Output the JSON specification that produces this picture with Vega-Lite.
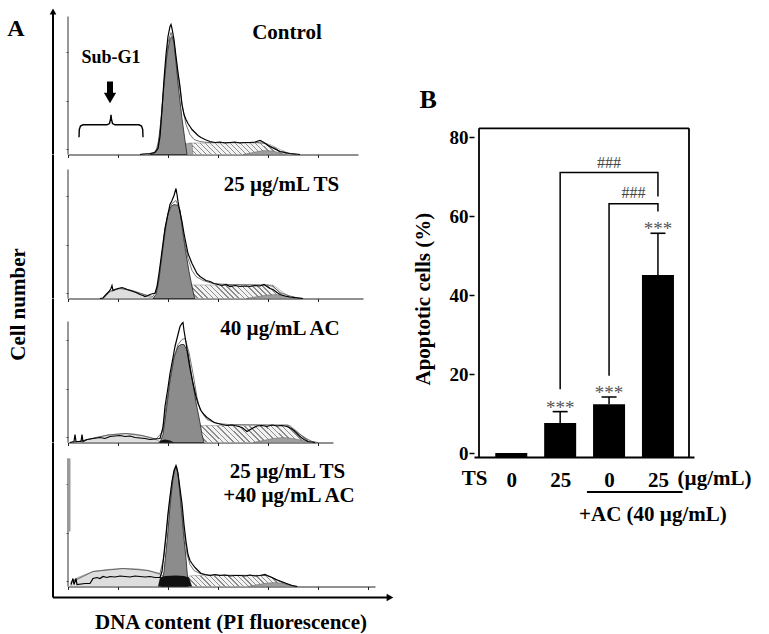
{
  "$schema": "https://vega.github.io/schema/vega-lite/v6.json",
  "background": "white",
  "padding": {"left": 7, "top": 8, "right": 0, "bottom": 0},
  "spacing": 18,
  "config": {
    "font": "Liberation Serif",
    "view": {"stroke": null},
    "axis": {"grid": false, "labelFont": "Liberation Serif", "titleFont": "Liberation Serif"}
  },
  "datasets": {
    "p1": [
      {"s":"obs","x":72,"h":0},{"s":"obs","x":75,"h":0.5},{"s":"obs","x":82,"h":1},{"s":"obs","x":87,"h":2},{"s":"obs","x":90,"h":6},{"s":"obs","x":92,"h":18},{"s":"obs","x":94,"h":45},{"s":"obs","x":96,"h":75},{"s":"obs","x":98,"h":100},{"s":"obs","x":100,"h":118},{"s":"obs","x":102,"h":128},{"s":"obs","x":103,"h":130},{"s":"obs","x":104,"h":126},{"s":"obs","x":106,"h":115},{"s":"obs","x":108,"h":98},{"s":"obs","x":110,"h":82},{"s":"obs","x":112,"h":68},{"s":"obs","x":114,"h":50},{"s":"obs","x":116,"h":40},{"s":"obs","x":118,"h":35},{"s":"obs","x":120,"h":31},{"s":"obs","x":122,"h":28},{"s":"obs","x":124,"h":25},{"s":"obs","x":127,"h":22},{"s":"obs","x":130,"h":19},{"s":"obs","x":133,"h":17},{"s":"obs","x":137,"h":15},{"s":"obs","x":142,"h":13},{"s":"obs","x":147,"h":12},{"s":"obs","x":152,"h":12.5},{"s":"obs","x":157,"h":11.5},{"s":"obs","x":162,"h":12},{"s":"obs","x":167,"h":12.5},{"s":"obs","x":172,"h":11.5},{"s":"obs","x":177,"h":12},{"s":"obs","x":182,"h":12},{"s":"obs","x":187,"h":12.5},{"s":"obs","x":192,"h":14},{"s":"obs","x":196,"h":12},{"s":"obs","x":200,"h":9},{"s":"obs","x":204,"h":7},{"s":"obs","x":208,"h":5},{"s":"obs","x":212,"h":3},{"s":"obs","x":217,"h":2},{"s":"obs","x":222,"h":1},{"s":"obs","x":228,"h":0.5},{"s":"obs","x":232,"h":0},
      {"s":"fit","x":80,"h":0},{"s":"fit","x":88,"h":3},{"s":"fit","x":92,"h":20},{"s":"fit","x":96,"h":70},{"s":"fit","x":100,"h":112},{"s":"fit","x":103,"h":122},{"s":"fit","x":106,"h":112},{"s":"fit","x":110,"h":80},{"s":"fit","x":114,"h":50},{"s":"fit","x":118,"h":30},{"s":"fit","x":122,"h":20},{"s":"fit","x":126,"h":15},{"s":"fit","x":132,"h":13},{"s":"fit","x":140,"h":12},{"s":"fit","x":190,"h":12},{"s":"fit","x":198,"h":11},{"s":"fit","x":205,"h":7},{"s":"fit","x":212,"h":3},{"s":"fit","x":220,"h":1},{"s":"fit","x":228,"h":0},
      {"s":"g1","x":82,"h":0},{"s":"g1","x":86,"h":1},{"s":"g1","x":90,"h":8},{"s":"g1","x":93,"h":35},{"s":"g1","x":96,"h":70},{"s":"g1","x":99,"h":100},{"s":"g1","x":102,"h":116},{"s":"g1","x":104,"h":118},{"s":"g1","x":106,"h":112},{"s":"g1","x":108,"h":92},{"s":"g1","x":111,"h":62},{"s":"g1","x":114,"h":36},{"s":"g1","x":117,"h":14},{"s":"g1","x":119,"h":0},
      {"s":"s","x":92,"h":0},{"s":"s","x":100,"h":5},{"s":"s","x":112,"h":10},{"s":"s","x":122,"h":11.5},{"s":"s","x":195,"h":11.5},{"s":"s","x":202,"h":10},{"s":"s","x":212,"h":5},{"s":"s","x":222,"h":1},{"s":"s","x":227,"h":0},
      {"s":"sd","x":98,"h":0},{"s":"sd","x":108,"h":6},{"s":"sd","x":118,"h":10.5},{"s":"sd","x":124,"h":11.2},{"s":"sd","x":125,"h":0},
      {"s":"g2","x":175,"h":0},{"s":"g2","x":185,"h":2},{"s":"g2","x":195,"h":4},{"s":"g2","x":205,"h":3.5},{"s":"g2","x":212,"h":1.5},{"s":"g2","x":218,"h":0},
      {"s":"brace","x":11,"h":17.3},{"s":"brace","x":11.3,"h":25},{"s":"brace","x":12.5,"h":28.5},{"s":"brace","x":15,"h":29.7},{"s":"brace","x":39,"h":29.7},{"s":"brace","x":41.5,"h":31},{"s":"brace","x":42.5,"h":35},{"s":"brace","x":43,"h":39.7},{"s":"brace","x":43.5,"h":35},{"s":"brace","x":44.5,"h":31},{"s":"brace","x":47,"h":29.7},{"s":"brace","x":71,"h":29.7},{"s":"brace","x":73.5,"h":28.5},{"s":"brace","x":74.7,"h":25},{"s":"brace","x":75,"h":17.3}
    ],
    "p2": [
      {"s":"obs","x":32,"h":0},{"s":"obs","x":35,"h":0.5},{"s":"obs","x":38,"h":4},{"s":"obs","x":41,"h":7},{"s":"obs","x":43,"h":10},{"s":"obs","x":44,"h":13},{"s":"obs","x":45,"h":8},{"s":"obs","x":47,"h":9},{"s":"obs","x":50,"h":10},{"s":"obs","x":54,"h":11},{"s":"obs","x":57,"h":10},{"s":"obs","x":59,"h":9},{"s":"obs","x":62,"h":8},{"s":"obs","x":65,"h":7},{"s":"obs","x":68,"h":6},{"s":"obs","x":72,"h":4},{"s":"obs","x":75,"h":3},{"s":"obs","x":77,"h":2},{"s":"obs","x":80,"h":3},{"s":"obs","x":82,"h":4},{"s":"obs","x":85,"h":5},{"s":"obs","x":87,"h":5},{"s":"obs","x":89,"h":12},{"s":"obs","x":91,"h":25},{"s":"obs","x":93,"h":40},{"s":"obs","x":95,"h":55},{"s":"obs","x":97,"h":70},{"s":"obs","x":99,"h":80},{"s":"obs","x":102,"h":94},{"s":"obs","x":104,"h":98},{"s":"obs","x":106,"h":103},{"s":"obs","x":108,"h":110},{"s":"obs","x":109,"h":104},{"s":"obs","x":110,"h":97},{"s":"obs","x":112,"h":86},{"s":"obs","x":114,"h":77},{"s":"obs","x":116,"h":65},{"s":"obs","x":118,"h":55},{"s":"obs","x":120,"h":45},{"s":"obs","x":122,"h":40},{"s":"obs","x":124,"h":35},{"s":"obs","x":127,"h":29},{"s":"obs","x":129,"h":25},{"s":"obs","x":132,"h":22},{"s":"obs","x":135,"h":20},{"s":"obs","x":138,"h":18},{"s":"obs","x":142,"h":17},{"s":"obs","x":146,"h":15},{"s":"obs","x":150,"h":14},{"s":"obs","x":154,"h":13},{"s":"obs","x":158,"h":14},{"s":"obs","x":162,"h":12},{"s":"obs","x":167,"h":13},{"s":"obs","x":172,"h":12},{"s":"obs","x":177,"h":12.5},{"s":"obs","x":182,"h":12},{"s":"obs","x":187,"h":13},{"s":"obs","x":192,"h":12.5},{"s":"obs","x":196,"h":14},{"s":"obs","x":199,"h":12},{"s":"obs","x":202,"h":10},{"s":"obs","x":205,"h":9},{"s":"obs","x":209,"h":6},{"s":"obs","x":212,"h":4},{"s":"obs","x":217,"h":2.5},{"s":"obs","x":222,"h":1.5},{"s":"obs","x":227,"h":0.8},{"s":"obs","x":235,"h":0},
      {"s":"fit","x":35,"h":0},{"s":"fit","x":42,"h":7},{"s":"fit","x":52,"h":10},{"s":"fit","x":64,"h":8},{"s":"fit","x":76,"h":4},{"s":"fit","x":85,"h":2},{"s":"fit","x":90,"h":12},{"s":"fit","x":95,"h":50},{"s":"fit","x":100,"h":85},{"s":"fit","x":104,"h":95},{"s":"fit","x":108,"h":98},{"s":"fit","x":112,"h":88},{"s":"fit","x":116,"h":60},{"s":"fit","x":120,"h":40},{"s":"fit","x":124,"h":28},{"s":"fit","x":128,"h":22},{"s":"fit","x":135,"h":18},{"s":"fit","x":145,"h":15},{"s":"fit","x":160,"h":14},{"s":"fit","x":200,"h":13.5},{"s":"fit","x":205,"h":12},{"s":"fit","x":212,"h":6},{"s":"fit","x":220,"h":3},{"s":"fit","x":230,"h":0.5},{"s":"fit","x":235,"h":0},
      {"s":"g1","x":85,"h":0},{"s":"g1","x":88,"h":4},{"s":"g1","x":91,"h":20},{"s":"g1","x":94,"h":45},{"s":"g1","x":97,"h":70},{"s":"g1","x":100,"h":85},{"s":"g1","x":103,"h":92},{"s":"g1","x":106,"h":94},{"s":"g1","x":110,"h":93},{"s":"g1","x":112,"h":88},{"s":"g1","x":115,"h":65},{"s":"g1","x":118,"h":45},{"s":"g1","x":121,"h":27},{"s":"g1","x":124,"h":12},{"s":"g1","x":126,"h":3},{"s":"g1","x":127,"h":0},
      {"s":"s","x":92,"h":0},{"s":"s","x":100,"h":4},{"s":"s","x":110,"h":9},{"s":"s","x":118,"h":12},{"s":"s","x":124,"h":13.5},{"s":"s","x":205,"h":13.5},{"s":"s","x":210,"h":10},{"s":"s","x":215,"h":6},{"s":"s","x":220,"h":3},{"s":"s","x":225,"h":1},{"s":"s","x":230,"h":0},
      {"s":"sd","x":96,"h":0},{"s":"sd","x":106,"h":6},{"s":"sd","x":116,"h":11},{"s":"sd","x":124,"h":13},{"s":"sd","x":125,"h":0},
      {"s":"g2","x":178,"h":0},{"s":"g2","x":190,"h":2},{"s":"g2","x":200,"h":3.5},{"s":"g2","x":208,"h":4},{"s":"g2","x":215,"h":3},{"s":"g2","x":222,"h":1},{"s":"g2","x":227,"h":0},
      {"s":"sub","x":34,"h":0},{"s":"sub","x":38,"h":3},{"s":"sub","x":42,"h":7},{"s":"sub","x":46,"h":9},{"s":"sub","x":52,"h":10},{"s":"sub","x":58,"h":9.5},{"s":"sub","x":64,"h":8},{"s":"sub","x":70,"h":6},{"s":"sub","x":76,"h":4},{"s":"sub","x":80,"h":2},{"s":"sub","x":84,"h":0.5},{"s":"sub","x":87,"h":0}
    ],
    "p3": [
      {"s":"obs","x":2,"h":0},{"s":"obs","x":6,"h":1},{"s":"obs","x":7,"h":8},{"s":"obs","x":8,"h":1},{"s":"obs","x":13,"h":1},{"s":"obs","x":14,"h":8},{"s":"obs","x":15,"h":1},{"s":"obs","x":19,"h":3},{"s":"obs","x":25,"h":4},{"s":"obs","x":32,"h":5},{"s":"obs","x":37,"h":4},{"s":"obs","x":42,"h":6},{"s":"obs","x":47,"h":6.5},{"s":"obs","x":52,"h":7},{"s":"obs","x":57,"h":6},{"s":"obs","x":62,"h":6.5},{"s":"obs","x":67,"h":5},{"s":"obs","x":72,"h":4.5},{"s":"obs","x":77,"h":4},{"s":"obs","x":82,"h":3},{"s":"obs","x":87,"h":3.5},{"s":"obs","x":92,"h":4},{"s":"obs","x":95,"h":15},{"s":"obs","x":97,"h":36},{"s":"obs","x":100,"h":55},{"s":"obs","x":102,"h":69},{"s":"obs","x":105,"h":85},{"s":"obs","x":107,"h":96},{"s":"obs","x":110,"h":108},{"s":"obs","x":112,"h":116},{"s":"obs","x":114,"h":119},{"s":"obs","x":115,"h":120},{"s":"obs","x":116,"h":112},{"s":"obs","x":118,"h":100},{"s":"obs","x":120,"h":86},{"s":"obs","x":122,"h":74},{"s":"obs","x":125,"h":59},{"s":"obs","x":128,"h":46},{"s":"obs","x":130,"h":39},{"s":"obs","x":133,"h":32},{"s":"obs","x":136,"h":28},{"s":"obs","x":139,"h":25},{"s":"obs","x":142,"h":23},{"s":"obs","x":146,"h":20},{"s":"obs","x":150,"h":19},{"s":"obs","x":154,"h":18},{"s":"obs","x":159,"h":17},{"s":"obs","x":164,"h":17.5},{"s":"obs","x":169,"h":16.5},{"s":"obs","x":174,"h":15},{"s":"obs","x":179,"h":11},{"s":"obs","x":184,"h":14},{"s":"obs","x":189,"h":16.5},{"s":"obs","x":194,"h":17},{"s":"obs","x":199,"h":16},{"s":"obs","x":204,"h":17.5},{"s":"obs","x":209,"h":16.5},{"s":"obs","x":214,"h":17},{"s":"obs","x":219,"h":16},{"s":"obs","x":223,"h":14},{"s":"obs","x":226,"h":12},{"s":"obs","x":229,"h":9},{"s":"obs","x":232,"h":6},{"s":"obs","x":236,"h":3},{"s":"obs","x":240,"h":1},{"s":"obs","x":247,"h":0},
      {"s":"fit","x":5,"h":0},{"s":"fit","x":20,"h":3},{"s":"fit","x":40,"h":7.5},{"s":"fit","x":58,"h":9},{"s":"fit","x":74,"h":7},{"s":"fit","x":88,"h":3.5},{"s":"fit","x":94,"h":10},{"s":"fit","x":98,"h":35},{"s":"fit","x":102,"h":62},{"s":"fit","x":106,"h":85},{"s":"fit","x":110,"h":98},{"s":"fit","x":114,"h":103},{"s":"fit","x":117,"h":104},{"s":"fit","x":121,"h":90},{"s":"fit","x":125,"h":69},{"s":"fit","x":129,"h":45},{"s":"fit","x":132,"h":33},{"s":"fit","x":136,"h":27},{"s":"fit","x":139,"h":23},{"s":"fit","x":144,"h":21},{"s":"fit","x":150,"h":19},{"s":"fit","x":160,"h":18},{"s":"fit","x":220,"h":17.5},{"s":"fit","x":226,"h":13},{"s":"fit","x":232,"h":8},{"s":"fit","x":238,"h":4},{"s":"fit","x":244,"h":1},{"s":"fit","x":250,"h":0},
      {"s":"g1","x":92,"h":0},{"s":"g1","x":95,"h":8},{"s":"g1","x":98,"h":30},{"s":"g1","x":102,"h":62},{"s":"g1","x":106,"h":85},{"s":"g1","x":110,"h":96},{"s":"g1","x":113,"h":98},{"s":"g1","x":116,"h":98},{"s":"g1","x":120,"h":90},{"s":"g1","x":124,"h":65},{"s":"g1","x":128,"h":40},{"s":"g1","x":132,"h":20},{"s":"g1","x":134,"h":8},{"s":"g1","x":136,"h":0},
      {"s":"s","x":104,"h":0},{"s":"s","x":112,"h":6},{"s":"s","x":120,"h":12},{"s":"s","x":128,"h":16},{"s":"s","x":132,"h":17},{"s":"s","x":222,"h":17},{"s":"s","x":228,"h":12},{"s":"s","x":234,"h":7},{"s":"s","x":240,"h":3},{"s":"s","x":244,"h":1},{"s":"s","x":247,"h":0},
      {"s":"sd","x":104,"h":0},{"s":"sd","x":115,"h":8},{"s":"sd","x":125,"h":14},{"s":"sd","x":132,"h":16.5},{"s":"sd","x":133,"h":0},
      {"s":"g2","x":185,"h":0},{"s":"g2","x":195,"h":2},{"s":"g2","x":205,"h":4},{"s":"g2","x":215,"h":5},{"s":"g2","x":225,"h":4},{"s":"g2","x":235,"h":2},{"s":"g2","x":242,"h":0},
      {"s":"sub","x":5,"h":0},{"s":"sub","x":12,"h":1},{"s":"sub","x":20,"h":3},{"s":"sub","x":30,"h":5.5},{"s":"sub","x":40,"h":7.5},{"s":"sub","x":50,"h":8.5},{"s":"sub","x":58,"h":9},{"s":"sub","x":66,"h":8.5},{"s":"sub","x":74,"h":7},{"s":"sub","x":82,"h":5},{"s":"sub","x":88,"h":3},{"s":"sub","x":92,"h":1},{"s":"sub","x":95,"h":0},
      {"s":"blk","x":90,"h":0},{"s":"blk","x":93,"h":2},{"s":"blk","x":97,"h":3},{"s":"blk","x":102,"h":2},{"s":"blk","x":106,"h":0}
    ],
    "p4": [
      {"s":"obs","x":3,"h":2},{"s":"obs","x":5,"h":8},{"s":"obs","x":6,"h":2},{"s":"obs","x":8,"h":8},{"s":"obs","x":9,"h":2},{"s":"obs","x":17,"h":3},{"s":"obs","x":22,"h":3},{"s":"obs","x":25,"h":8},{"s":"obs","x":29,"h":9},{"s":"obs","x":32,"h":8},{"s":"obs","x":35,"h":10},{"s":"obs","x":39,"h":9},{"s":"obs","x":42,"h":10},{"s":"obs","x":47,"h":9.5},{"s":"obs","x":52,"h":10.5},{"s":"obs","x":57,"h":10},{"s":"obs","x":62,"h":9.5},{"s":"obs","x":67,"h":10.5},{"s":"obs","x":72,"h":10},{"s":"obs","x":77,"h":9.5},{"s":"obs","x":82,"h":10},{"s":"obs","x":87,"h":9},{"s":"obs","x":92,"h":9},{"s":"obs","x":94,"h":15},{"s":"obs","x":96,"h":33},{"s":"obs","x":98,"h":52},{"s":"obs","x":100,"h":73},{"s":"obs","x":102,"h":90},{"s":"obs","x":104,"h":105},{"s":"obs","x":106,"h":116},{"s":"obs","x":108,"h":121},{"s":"obs","x":109,"h":118},{"s":"obs","x":110,"h":113},{"s":"obs","x":112,"h":98},{"s":"obs","x":114,"h":83},{"s":"obs","x":116,"h":62},{"s":"obs","x":118,"h":45},{"s":"obs","x":120,"h":32},{"s":"obs","x":122,"h":26},{"s":"obs","x":124,"h":23},{"s":"obs","x":127,"h":19},{"s":"obs","x":130,"h":16},{"s":"obs","x":133,"h":13},{"s":"obs","x":137,"h":12},{"s":"obs","x":142,"h":11},{"s":"obs","x":147,"h":12},{"s":"obs","x":152,"h":11},{"s":"obs","x":157,"h":11.5},{"s":"obs","x":162,"h":10.5},{"s":"obs","x":167,"h":11},{"s":"obs","x":172,"h":11},{"s":"obs","x":177,"h":10.5},{"s":"obs","x":182,"h":11.5},{"s":"obs","x":187,"h":10.5},{"s":"obs","x":192,"h":11},{"s":"obs","x":197,"h":12},{"s":"obs","x":200,"h":10.5},{"s":"obs","x":204,"h":9},{"s":"obs","x":208,"h":7},{"s":"obs","x":212,"h":5.5},{"s":"obs","x":216,"h":4},{"s":"obs","x":220,"h":2.5},{"s":"obs","x":224,"h":1},{"s":"obs","x":229,"h":0},
      {"s":"fit","x":5,"h":5},{"s":"fit","x":25,"h":15},{"s":"fit","x":55,"h":18},{"s":"fit","x":80,"h":16},{"s":"fit","x":92,"h":13},{"s":"fit","x":96,"h":30},{"s":"fit","x":100,"h":70},{"s":"fit","x":104,"h":105},{"s":"fit","x":107,"h":118},{"s":"fit","x":108,"h":120},{"s":"fit","x":110,"h":112},{"s":"fit","x":113,"h":85},{"s":"fit","x":116,"h":55},{"s":"fit","x":119,"h":32},{"s":"fit","x":122,"h":22},{"s":"fit","x":126,"h":16},{"s":"fit","x":132,"h":13},{"s":"fit","x":140,"h":11.5},{"s":"fit","x":200,"h":11},{"s":"fit","x":206,"h":8},{"s":"fit","x":212,"h":5},{"s":"fit","x":218,"h":2.5},{"s":"fit","x":225,"h":0.8},{"s":"fit","x":230,"h":0},
      {"s":"g1","x":93,"h":0},{"s":"g1","x":96,"h":15},{"s":"g1","x":99,"h":45},{"s":"g1","x":102,"h":80},{"s":"g1","x":105,"h":108},{"s":"g1","x":107,"h":118},{"s":"g1","x":108,"h":120},{"s":"g1","x":110,"h":113},{"s":"g1","x":112,"h":92},{"s":"g1","x":114,"h":70},{"s":"g1","x":116,"h":48},{"s":"g1","x":118,"h":28},{"s":"g1","x":119.5,"h":10},{"s":"g1","x":120,"h":0},
      {"s":"s","x":100,"h":0},{"s":"s","x":110,"h":6},{"s":"s","x":119,"h":10},{"s":"s","x":125,"h":11},{"s":"s","x":200,"h":11},{"s":"s","x":206,"h":8},{"s":"s","x":212,"h":5},{"s":"s","x":218,"h":2.5},{"s":"s","x":225,"h":0},
      {"s":"g2","x":180,"h":0},{"s":"g2","x":190,"h":2},{"s":"g2","x":200,"h":3.5},{"s":"g2","x":208,"h":4},{"s":"g2","x":215,"h":3},{"s":"g2","x":222,"h":1},{"s":"g2","x":227,"h":0},
      {"s":"sub","x":3,"h":5},{"s":"sub","x":10,"h":9},{"s":"sub","x":25,"h":15},{"s":"sub","x":40,"h":17},{"s":"sub","x":55,"h":18},{"s":"sub","x":70,"h":17.5},{"s":"sub","x":80,"h":16},{"s":"sub","x":92,"h":12},{"s":"sub","x":100,"h":9},{"s":"sub","x":109,"h":6},{"s":"sub","x":117,"h":3},{"s":"sub","x":125,"h":1},{"s":"sub","x":130,"h":0},
      {"s":"blk","x":90,"h":0},{"s":"blk","x":92,"h":9},{"s":"blk","x":97,"h":10.5},{"s":"blk","x":108,"h":11},{"s":"blk","x":116,"h":10.5},{"s":"blk","x":121,"h":9},{"s":"blk","x":124,"h":0}
    ]
  },
  "hconcat": [
    {
      "vconcat": [
        {
          "width": 290,
          "height": 143.5,
          "layer": [
            {
              "data": {"name": "p1"},
              "encoding": {
                "x": {"field": "x", "type": "quantitative", "scale": {"domain": [0, 290], "nice": false, "zero": false},
                  "axis": {"title": null, "labels": false, "grid": false, "tickSize": 3, "tickColor": "#222", "domainColor": "#222", "domainWidth": 1,
                    "values": [0,12.5,25,37.5,50,62.5,75,87.5,100,112.5,125,137.5,150,162.5,175,187.5,200,212.5,225,237.5,250,262.5,275,287.5]}},
                "y": {"field": "h", "type": "quantitative", "scale": {"domain": [0, 143.5], "nice": false},
                  "axis": {"title": null, "labels": false, "grid": false, "domain": false, "tickSize": 2, "tickColor": "#555",
                    "values": [6,12,18,24,30,36,42,48,54,60,66,72,78,84,90,96,102,108,114,120,126,132,138]}}
              },
              "layer": [
                {"transform": [{"filter": "datum.s == 's'"}], "mark": {"type": "area", "stroke": "#999999", "strokeWidth": 0.6,
                  "fill": {"gradient": "linear", "x1": 0, "y1": 0.543, "x2": 1, "y2": 0.457, "stops": [
                    {"offset": 0, "color": "#8c8c8c"}, {"offset": 0.011, "color": "#8c8c8c"}, {"offset": 0.011, "color": "#f2f2f2"}, {"offset": 0.037, "color": "#f2f2f2"},
                    {"offset": 0.037, "color": "#8c8c8c"}, {"offset": 0.048, "color": "#8c8c8c"}, {"offset": 0.048, "color": "#f2f2f2"}, {"offset": 0.0741, "color": "#f2f2f2"},
                    {"offset": 0.0741, "color": "#8c8c8c"}, {"offset": 0.0851, "color": "#8c8c8c"}, {"offset": 0.0851, "color": "#f2f2f2"}, {"offset": 0.1111, "color": "#f2f2f2"},
                    {"offset": 0.1111, "color": "#8c8c8c"}, {"offset": 0.1221, "color": "#8c8c8c"}, {"offset": 0.1221, "color": "#f2f2f2"}, {"offset": 0.1481, "color": "#f2f2f2"},
                    {"offset": 0.1481, "color": "#8c8c8c"}, {"offset": 0.1591, "color": "#8c8c8c"}, {"offset": 0.1591, "color": "#f2f2f2"}, {"offset": 0.1852, "color": "#f2f2f2"},
                    {"offset": 0.1852, "color": "#8c8c8c"}, {"offset": 0.1962, "color": "#8c8c8c"}, {"offset": 0.1962, "color": "#f2f2f2"}, {"offset": 0.2222, "color": "#f2f2f2"},
                    {"offset": 0.2222, "color": "#8c8c8c"}, {"offset": 0.2332, "color": "#8c8c8c"}, {"offset": 0.2332, "color": "#f2f2f2"}, {"offset": 0.2593, "color": "#f2f2f2"},
                    {"offset": 0.2593, "color": "#8c8c8c"}, {"offset": 0.2703, "color": "#8c8c8c"}, {"offset": 0.2703, "color": "#f2f2f2"}, {"offset": 0.2963, "color": "#f2f2f2"},
                    {"offset": 0.2963, "color": "#8c8c8c"}, {"offset": 0.3073, "color": "#8c8c8c"}, {"offset": 0.3073, "color": "#f2f2f2"}, {"offset": 0.3333, "color": "#f2f2f2"},
                    {"offset": 0.3333, "color": "#8c8c8c"}, {"offset": 0.3443, "color": "#8c8c8c"}, {"offset": 0.3443, "color": "#f2f2f2"}, {"offset": 0.3704, "color": "#f2f2f2"},
                    {"offset": 0.3704, "color": "#8c8c8c"}, {"offset": 0.3814, "color": "#8c8c8c"}, {"offset": 0.3814, "color": "#f2f2f2"}, {"offset": 0.4074, "color": "#f2f2f2"},
                    {"offset": 0.4074, "color": "#8c8c8c"}, {"offset": 0.4184, "color": "#8c8c8c"}, {"offset": 0.4184, "color": "#f2f2f2"}, {"offset": 0.4444, "color": "#f2f2f2"},
                    {"offset": 0.4444, "color": "#8c8c8c"}, {"offset": 0.4554, "color": "#8c8c8c"}, {"offset": 0.4554, "color": "#f2f2f2"}, {"offset": 0.4815, "color": "#f2f2f2"},
                    {"offset": 0.4815, "color": "#8c8c8c"}, {"offset": 0.4925, "color": "#8c8c8c"}, {"offset": 0.4925, "color": "#f2f2f2"}, {"offset": 0.5185, "color": "#f2f2f2"},
                    {"offset": 0.5185, "color": "#8c8c8c"}, {"offset": 0.5295, "color": "#8c8c8c"}, {"offset": 0.5295, "color": "#f2f2f2"}, {"offset": 0.5556, "color": "#f2f2f2"},
                    {"offset": 0.5556, "color": "#8c8c8c"}, {"offset": 0.5666, "color": "#8c8c8c"}, {"offset": 0.5666, "color": "#f2f2f2"}, {"offset": 0.5926, "color": "#f2f2f2"},
                    {"offset": 0.5926, "color": "#8c8c8c"}, {"offset": 0.6036, "color": "#8c8c8c"}, {"offset": 0.6036, "color": "#f2f2f2"}, {"offset": 0.6296, "color": "#f2f2f2"},
                    {"offset": 0.6296, "color": "#8c8c8c"}, {"offset": 0.6406, "color": "#8c8c8c"}, {"offset": 0.6406, "color": "#f2f2f2"}, {"offset": 0.6667, "color": "#f2f2f2"},
                    {"offset": 0.6667, "color": "#8c8c8c"}, {"offset": 0.6777, "color": "#8c8c8c"}, {"offset": 0.6777, "color": "#f2f2f2"}, {"offset": 0.7037, "color": "#f2f2f2"},
                    {"offset": 0.7037, "color": "#8c8c8c"}, {"offset": 0.7147, "color": "#8c8c8c"}, {"offset": 0.7147, "color": "#f2f2f2"}, {"offset": 0.7407, "color": "#f2f2f2"},
                    {"offset": 0.7407, "color": "#8c8c8c"}, {"offset": 0.7517, "color": "#8c8c8c"}, {"offset": 0.7517, "color": "#f2f2f2"}, {"offset": 0.7778, "color": "#f2f2f2"},
                    {"offset": 0.7778, "color": "#8c8c8c"}, {"offset": 0.7888, "color": "#8c8c8c"}, {"offset": 0.7888, "color": "#f2f2f2"}, {"offset": 0.8148, "color": "#f2f2f2"},
                    {"offset": 0.8148, "color": "#8c8c8c"}, {"offset": 0.8258, "color": "#8c8c8c"}, {"offset": 0.8258, "color": "#f2f2f2"}, {"offset": 0.8519, "color": "#f2f2f2"},
                    {"offset": 0.8519, "color": "#8c8c8c"}, {"offset": 0.8629, "color": "#8c8c8c"}, {"offset": 0.8629, "color": "#f2f2f2"}, {"offset": 0.8889, "color": "#f2f2f2"},
                    {"offset": 0.8889, "color": "#8c8c8c"}, {"offset": 0.8999, "color": "#8c8c8c"}, {"offset": 0.8999, "color": "#f2f2f2"}, {"offset": 0.9259, "color": "#f2f2f2"},
                    {"offset": 0.9259, "color": "#8c8c8c"}, {"offset": 0.9369, "color": "#8c8c8c"}, {"offset": 0.9369, "color": "#f2f2f2"}, {"offset": 0.963, "color": "#f2f2f2"},
                    {"offset": 0.963, "color": "#8c8c8c"}, {"offset": 0.974, "color": "#8c8c8c"}, {"offset": 0.974, "color": "#f2f2f2"}, {"offset": 1, "color": "#f2f2f2"}]}}, "encoding": {}},
                {"transform": [{"filter": "datum.s == 'sd'"}], "mark": {"type": "area", "fill": "#a8a8a8", "stroke": "#777777", "strokeWidth": 0.5}, "encoding": {}},
                {"transform": [{"filter": "datum.s == 'g2'"}], "mark": {"type": "area", "fill": "#9e9e9e", "stroke": "#666666", "strokeWidth": 0.5}, "encoding": {}},
                {"transform": [{"filter": "datum.s == 'g1'"}], "mark": {"type": "area", "fill": "#8c8c8c", "stroke": "#222222", "strokeWidth": 0.8}, "encoding": {}},
                {"transform": [{"filter": "datum.s == 'fit'"}], "mark": {"type": "line", "stroke": "#555555", "strokeWidth": 0.8}, "encoding": {}},
                {"transform": [{"filter": "datum.s == 'obs'"}], "mark": {"type": "line", "stroke": "#000000", "strokeWidth": 1.2}, "encoding": {}},
                {"transform": [{"filter": "datum.s == 'brace'"}], "mark": {"type": "line", "stroke": "#000000", "strokeWidth": 1.4}, "encoding": {}}
              ]
            },
            {"data": {"values": [{"part": "panel axis"}]}, "mark": {"type": "rule", "stroke": "#333333", "strokeWidth": 1},
              "encoding": {"x": {"datum": 0}, "y": {"datum": 0}, "y2": {"datum": 138}}},
            {"data": {"values": [{"part": "cell number axis"}]}, "mark": {"type": "rule", "stroke": "#000000", "strokeWidth": 2},
              "encoding": {"x": {"datum": -15}, "y": {"datum": 0}, "y2": {"datum": 143.5}}},
            {"data": {"values": [{"part": "arrow head"}]}, "mark": {"type": "point", "shape": "triangle-up", "size": 45, "filled": true, "color": "#000000", "opacity": 1},
              "encoding": {"x": {"datum": -15}, "y": {"datum": 143}}},
            {"data": {"values": [{"t": "A"}]}, "mark": {"type": "text", "fontSize": 24, "fontWeight": "bold", "align": "center", "baseline": "middle"},
              "encoding": {"x": {"datum": -52}, "y": {"datum": 126}, "text": {"field": "t"}}},
            {"data": {"values": [{"t": "Sub-G1"}]}, "mark": {"type": "text", "fontSize": 18, "fontWeight": "bold", "align": "center", "baseline": "middle"},
              "encoding": {"x": {"datum": 43}, "y": {"datum": 97}, "text": {"field": "t"}}},
            {"data": {"values": [{"part": "Sub-G1 arrow"}]}, "mark": {"type": "rule", "stroke": "#000000", "strokeWidth": 6},
              "encoding": {"x": {"datum": 42}, "y": {"datum": 60}, "y2": {"datum": 73}}},
            {"data": {"values": [{"part": "Sub-G1 arrow head"}]}, "mark": {"type": "point", "shape": "triangle-down", "size": 150, "filled": true, "color": "#000000", "opacity": 1},
              "encoding": {"x": {"datum": 42}, "y": {"datum": 56.5}}},
            {"data": {"values": [{"t": "Control"}]}, "mark": {"type": "text", "fontSize": 21, "fontWeight": "bold", "align": "center", "baseline": "middle"},
              "encoding": {"x": {"datum": 219}, "y": {"datum": 121.5}, "text": {"field": "t"}}}
          ]
        },
        {
          "width": 295,
          "height": 143.5,
          "layer": [
            {
              "data": {"name": "p2"},
              "encoding": {
                "x": {"field": "x", "type": "quantitative", "scale": {"domain": [0, 295], "nice": false, "zero": false},
                  "axis": {"title": null, "labels": false, "grid": false, "tickSize": 3, "tickColor": "#222", "domainColor": "#222", "domainWidth": 1,
                    "values": [0,12.5,25,37.5,50,62.5,75,87.5,100,112.5,125,137.5,150,162.5,175,187.5,200,212.5,225,237.5,250,262.5,275,287.5]}},
                "y": {"field": "h", "type": "quantitative", "scale": {"domain": [0, 143.5], "nice": false},
                  "axis": {"title": null, "labels": false, "grid": false, "domain": false, "tickSize": 2, "tickColor": "#555",
                    "values": [6,12,18,24,30,36,42,48,54,60,66,72,78,84,90,96,102,108,114,120,126]}}
              },
              "layer": [
                {"transform": [{"filter": "datum.s == 'sub'"}], "mark": {"type": "area", "fill": "#dedede", "stroke": "#8a8a8a", "strokeWidth": 0.8}, "encoding": {}},
                {"transform": [{"filter": "datum.s == 's'"}], "mark": {"type": "area", "stroke": "#999999", "strokeWidth": 0.6,
                  "fill": {"gradient": "linear", "x1": 0, "y1": 0.549, "x2": 1, "y2": 0.451, "stops": [
                    {"offset": 0, "color": "#8c8c8c"}, {"offset": 0.011, "color": "#8c8c8c"}, {"offset": 0.011, "color": "#f2f2f2"}, {"offset": 0.037, "color": "#f2f2f2"},
                    {"offset": 0.037, "color": "#8c8c8c"}, {"offset": 0.048, "color": "#8c8c8c"}, {"offset": 0.048, "color": "#f2f2f2"}, {"offset": 0.0741, "color": "#f2f2f2"},
                    {"offset": 0.0741, "color": "#8c8c8c"}, {"offset": 0.0851, "color": "#8c8c8c"}, {"offset": 0.0851, "color": "#f2f2f2"}, {"offset": 0.1111, "color": "#f2f2f2"},
                    {"offset": 0.1111, "color": "#8c8c8c"}, {"offset": 0.1221, "color": "#8c8c8c"}, {"offset": 0.1221, "color": "#f2f2f2"}, {"offset": 0.1481, "color": "#f2f2f2"},
                    {"offset": 0.1481, "color": "#8c8c8c"}, {"offset": 0.1591, "color": "#8c8c8c"}, {"offset": 0.1591, "color": "#f2f2f2"}, {"offset": 0.1852, "color": "#f2f2f2"},
                    {"offset": 0.1852, "color": "#8c8c8c"}, {"offset": 0.1962, "color": "#8c8c8c"}, {"offset": 0.1962, "color": "#f2f2f2"}, {"offset": 0.2222, "color": "#f2f2f2"},
                    {"offset": 0.2222, "color": "#8c8c8c"}, {"offset": 0.2332, "color": "#8c8c8c"}, {"offset": 0.2332, "color": "#f2f2f2"}, {"offset": 0.2593, "color": "#f2f2f2"},
                    {"offset": 0.2593, "color": "#8c8c8c"}, {"offset": 0.2703, "color": "#8c8c8c"}, {"offset": 0.2703, "color": "#f2f2f2"}, {"offset": 0.2963, "color": "#f2f2f2"},
                    {"offset": 0.2963, "color": "#8c8c8c"}, {"offset": 0.3073, "color": "#8c8c8c"}, {"offset": 0.3073, "color": "#f2f2f2"}, {"offset": 0.3333, "color": "#f2f2f2"},
                    {"offset": 0.3333, "color": "#8c8c8c"}, {"offset": 0.3443, "color": "#8c8c8c"}, {"offset": 0.3443, "color": "#f2f2f2"}, {"offset": 0.3704, "color": "#f2f2f2"},
                    {"offset": 0.3704, "color": "#8c8c8c"}, {"offset": 0.3814, "color": "#8c8c8c"}, {"offset": 0.3814, "color": "#f2f2f2"}, {"offset": 0.4074, "color": "#f2f2f2"},
                    {"offset": 0.4074, "color": "#8c8c8c"}, {"offset": 0.4184, "color": "#8c8c8c"}, {"offset": 0.4184, "color": "#f2f2f2"}, {"offset": 0.4444, "color": "#f2f2f2"},
                    {"offset": 0.4444, "color": "#8c8c8c"}, {"offset": 0.4554, "color": "#8c8c8c"}, {"offset": 0.4554, "color": "#f2f2f2"}, {"offset": 0.4815, "color": "#f2f2f2"},
                    {"offset": 0.4815, "color": "#8c8c8c"}, {"offset": 0.4925, "color": "#8c8c8c"}, {"offset": 0.4925, "color": "#f2f2f2"}, {"offset": 0.5185, "color": "#f2f2f2"},
                    {"offset": 0.5185, "color": "#8c8c8c"}, {"offset": 0.5295, "color": "#8c8c8c"}, {"offset": 0.5295, "color": "#f2f2f2"}, {"offset": 0.5556, "color": "#f2f2f2"},
                    {"offset": 0.5556, "color": "#8c8c8c"}, {"offset": 0.5666, "color": "#8c8c8c"}, {"offset": 0.5666, "color": "#f2f2f2"}, {"offset": 0.5926, "color": "#f2f2f2"},
                    {"offset": 0.5926, "color": "#8c8c8c"}, {"offset": 0.6036, "color": "#8c8c8c"}, {"offset": 0.6036, "color": "#f2f2f2"}, {"offset": 0.6296, "color": "#f2f2f2"},
                    {"offset": 0.6296, "color": "#8c8c8c"}, {"offset": 0.6406, "color": "#8c8c8c"}, {"offset": 0.6406, "color": "#f2f2f2"}, {"offset": 0.6667, "color": "#f2f2f2"},
                    {"offset": 0.6667, "color": "#8c8c8c"}, {"offset": 0.6777, "color": "#8c8c8c"}, {"offset": 0.6777, "color": "#f2f2f2"}, {"offset": 0.7037, "color": "#f2f2f2"},
                    {"offset": 0.7037, "color": "#8c8c8c"}, {"offset": 0.7147, "color": "#8c8c8c"}, {"offset": 0.7147, "color": "#f2f2f2"}, {"offset": 0.7407, "color": "#f2f2f2"},
                    {"offset": 0.7407, "color": "#8c8c8c"}, {"offset": 0.7517, "color": "#8c8c8c"}, {"offset": 0.7517, "color": "#f2f2f2"}, {"offset": 0.7778, "color": "#f2f2f2"},
                    {"offset": 0.7778, "color": "#8c8c8c"}, {"offset": 0.7888, "color": "#8c8c8c"}, {"offset": 0.7888, "color": "#f2f2f2"}, {"offset": 0.8148, "color": "#f2f2f2"},
                    {"offset": 0.8148, "color": "#8c8c8c"}, {"offset": 0.8258, "color": "#8c8c8c"}, {"offset": 0.8258, "color": "#f2f2f2"}, {"offset": 0.8519, "color": "#f2f2f2"},
                    {"offset": 0.8519, "color": "#8c8c8c"}, {"offset": 0.8629, "color": "#8c8c8c"}, {"offset": 0.8629, "color": "#f2f2f2"}, {"offset": 0.8889, "color": "#f2f2f2"},
                    {"offset": 0.8889, "color": "#8c8c8c"}, {"offset": 0.8999, "color": "#8c8c8c"}, {"offset": 0.8999, "color": "#f2f2f2"}, {"offset": 0.9259, "color": "#f2f2f2"},
                    {"offset": 0.9259, "color": "#8c8c8c"}, {"offset": 0.9369, "color": "#8c8c8c"}, {"offset": 0.9369, "color": "#f2f2f2"}, {"offset": 0.963, "color": "#f2f2f2"},
                    {"offset": 0.963, "color": "#8c8c8c"}, {"offset": 0.974, "color": "#8c8c8c"}, {"offset": 0.974, "color": "#f2f2f2"}, {"offset": 1, "color": "#f2f2f2"}]}}, "encoding": {}},
                {"transform": [{"filter": "datum.s == 'sd'"}], "mark": {"type": "area", "fill": "#a8a8a8", "stroke": "#777777", "strokeWidth": 0.5}, "encoding": {}},
                {"transform": [{"filter": "datum.s == 'g2'"}], "mark": {"type": "area", "fill": "#9e9e9e", "stroke": "#666666", "strokeWidth": 0.5}, "encoding": {}},
                {"transform": [{"filter": "datum.s == 'g1'"}], "mark": {"type": "area", "fill": "#8c8c8c", "stroke": "#222222", "strokeWidth": 0.8}, "encoding": {}},
                {"transform": [{"filter": "datum.s == 'fit'"}], "mark": {"type": "line", "stroke": "#555555", "strokeWidth": 0.8}, "encoding": {}},
                {"transform": [{"filter": "datum.s == 'obs'"}], "mark": {"type": "line", "stroke": "#000000", "strokeWidth": 1.2}, "encoding": {}}
              ]
            },
            {"data": {"values": [{"part": "panel axis"}]}, "mark": {"type": "rule", "stroke": "#333333", "strokeWidth": 1},
              "encoding": {"x": {"datum": 0}, "y": {"datum": 0}, "y2": {"datum": 129}}},
            {"data": {"values": [{"part": "cell number axis"}]}, "mark": {"type": "rule", "stroke": "#000000", "strokeWidth": 2},
              "encoding": {"x": {"datum": -15}, "y": {"datum": 0}, "y2": {"datum": 143.5}}},
            {"data": {"values": [{"t": "Cell number"}]}, "mark": {"type": "text", "fontSize": 21, "fontWeight": "bold", "align": "center", "baseline": "middle", "angle": 270},
              "encoding": {"x": {"datum": -49.5}, "y": {"datum": -6}, "text": {"field": "t"}}},
            {"data": {"values": [{"t": "25 µg/mL TS"}]}, "mark": {"type": "text", "fontSize": 21, "fontWeight": "bold", "align": "center", "baseline": "middle"},
              "encoding": {"x": {"datum": 213.5}, "y": {"datum": 113.5}, "text": {"field": "t"}}}
          ]
        },
        {
          "width": 265,
          "height": 143.5,
          "layer": [
            {
              "data": {"name": "p3"},
              "encoding": {
                "x": {"field": "x", "type": "quantitative", "scale": {"domain": [0, 265], "nice": false, "zero": false},
                  "axis": {"title": null, "labels": false, "grid": false, "tickSize": 3, "tickColor": "#222", "domainColor": "#222", "domainWidth": 1,
                    "values": [0,12.5,25,37.5,50,62.5,75,87.5,100,112.5,125,137.5,150,162.5,175,187.5,200,212.5,225,237.5,250,262.5]}},
                "y": {"field": "h", "type": "quantitative", "scale": {"domain": [0, 143.5], "nice": false},
                  "axis": {"title": null, "labels": false, "grid": false, "domain": false, "tickSize": 2, "tickColor": "#555",
                    "values": [6,12,18,24,30,36,42,48,54,60,66,72,78,84,90,96,102,108,114,120]}}
              },
              "layer": [
                {"transform": [{"filter": "datum.s == 'sub'"}], "mark": {"type": "area", "fill": "#dedede", "stroke": "#8a8a8a", "strokeWidth": 0.8}, "encoding": {}},
                {"transform": [{"filter": "datum.s == 's'"}], "mark": {"type": "area", "stroke": "#999999", "strokeWidth": 0.6,
                  "fill": {"gradient": "linear", "x1": 0, "y1": 0.56, "x2": 1, "y2": 0.44, "stops": [
                    {"offset": 0, "color": "#8c8c8c"}, {"offset": 0.011, "color": "#8c8c8c"}, {"offset": 0.011, "color": "#f2f2f2"}, {"offset": 0.037, "color": "#f2f2f2"},
                    {"offset": 0.037, "color": "#8c8c8c"}, {"offset": 0.048, "color": "#8c8c8c"}, {"offset": 0.048, "color": "#f2f2f2"}, {"offset": 0.0741, "color": "#f2f2f2"},
                    {"offset": 0.0741, "color": "#8c8c8c"}, {"offset": 0.0851, "color": "#8c8c8c"}, {"offset": 0.0851, "color": "#f2f2f2"}, {"offset": 0.1111, "color": "#f2f2f2"},
                    {"offset": 0.1111, "color": "#8c8c8c"}, {"offset": 0.1221, "color": "#8c8c8c"}, {"offset": 0.1221, "color": "#f2f2f2"}, {"offset": 0.1481, "color": "#f2f2f2"},
                    {"offset": 0.1481, "color": "#8c8c8c"}, {"offset": 0.1591, "color": "#8c8c8c"}, {"offset": 0.1591, "color": "#f2f2f2"}, {"offset": 0.1852, "color": "#f2f2f2"},
                    {"offset": 0.1852, "color": "#8c8c8c"}, {"offset": 0.1962, "color": "#8c8c8c"}, {"offset": 0.1962, "color": "#f2f2f2"}, {"offset": 0.2222, "color": "#f2f2f2"},
                    {"offset": 0.2222, "color": "#8c8c8c"}, {"offset": 0.2332, "color": "#8c8c8c"}, {"offset": 0.2332, "color": "#f2f2f2"}, {"offset": 0.2593, "color": "#f2f2f2"},
                    {"offset": 0.2593, "color": "#8c8c8c"}, {"offset": 0.2703, "color": "#8c8c8c"}, {"offset": 0.2703, "color": "#f2f2f2"}, {"offset": 0.2963, "color": "#f2f2f2"},
                    {"offset": 0.2963, "color": "#8c8c8c"}, {"offset": 0.3073, "color": "#8c8c8c"}, {"offset": 0.3073, "color": "#f2f2f2"}, {"offset": 0.3333, "color": "#f2f2f2"},
                    {"offset": 0.3333, "color": "#8c8c8c"}, {"offset": 0.3443, "color": "#8c8c8c"}, {"offset": 0.3443, "color": "#f2f2f2"}, {"offset": 0.3704, "color": "#f2f2f2"},
                    {"offset": 0.3704, "color": "#8c8c8c"}, {"offset": 0.3814, "color": "#8c8c8c"}, {"offset": 0.3814, "color": "#f2f2f2"}, {"offset": 0.4074, "color": "#f2f2f2"},
                    {"offset": 0.4074, "color": "#8c8c8c"}, {"offset": 0.4184, "color": "#8c8c8c"}, {"offset": 0.4184, "color": "#f2f2f2"}, {"offset": 0.4444, "color": "#f2f2f2"},
                    {"offset": 0.4444, "color": "#8c8c8c"}, {"offset": 0.4554, "color": "#8c8c8c"}, {"offset": 0.4554, "color": "#f2f2f2"}, {"offset": 0.4815, "color": "#f2f2f2"},
                    {"offset": 0.4815, "color": "#8c8c8c"}, {"offset": 0.4925, "color": "#8c8c8c"}, {"offset": 0.4925, "color": "#f2f2f2"}, {"offset": 0.5185, "color": "#f2f2f2"},
                    {"offset": 0.5185, "color": "#8c8c8c"}, {"offset": 0.5295, "color": "#8c8c8c"}, {"offset": 0.5295, "color": "#f2f2f2"}, {"offset": 0.5556, "color": "#f2f2f2"},
                    {"offset": 0.5556, "color": "#8c8c8c"}, {"offset": 0.5666, "color": "#8c8c8c"}, {"offset": 0.5666, "color": "#f2f2f2"}, {"offset": 0.5926, "color": "#f2f2f2"},
                    {"offset": 0.5926, "color": "#8c8c8c"}, {"offset": 0.6036, "color": "#8c8c8c"}, {"offset": 0.6036, "color": "#f2f2f2"}, {"offset": 0.6296, "color": "#f2f2f2"},
                    {"offset": 0.6296, "color": "#8c8c8c"}, {"offset": 0.6406, "color": "#8c8c8c"}, {"offset": 0.6406, "color": "#f2f2f2"}, {"offset": 0.6667, "color": "#f2f2f2"},
                    {"offset": 0.6667, "color": "#8c8c8c"}, {"offset": 0.6777, "color": "#8c8c8c"}, {"offset": 0.6777, "color": "#f2f2f2"}, {"offset": 0.7037, "color": "#f2f2f2"},
                    {"offset": 0.7037, "color": "#8c8c8c"}, {"offset": 0.7147, "color": "#8c8c8c"}, {"offset": 0.7147, "color": "#f2f2f2"}, {"offset": 0.7407, "color": "#f2f2f2"},
                    {"offset": 0.7407, "color": "#8c8c8c"}, {"offset": 0.7517, "color": "#8c8c8c"}, {"offset": 0.7517, "color": "#f2f2f2"}, {"offset": 0.7778, "color": "#f2f2f2"},
                    {"offset": 0.7778, "color": "#8c8c8c"}, {"offset": 0.7888, "color": "#8c8c8c"}, {"offset": 0.7888, "color": "#f2f2f2"}, {"offset": 0.8148, "color": "#f2f2f2"},
                    {"offset": 0.8148, "color": "#8c8c8c"}, {"offset": 0.8258, "color": "#8c8c8c"}, {"offset": 0.8258, "color": "#f2f2f2"}, {"offset": 0.8519, "color": "#f2f2f2"},
                    {"offset": 0.8519, "color": "#8c8c8c"}, {"offset": 0.8629, "color": "#8c8c8c"}, {"offset": 0.8629, "color": "#f2f2f2"}, {"offset": 0.8889, "color": "#f2f2f2"},
                    {"offset": 0.8889, "color": "#8c8c8c"}, {"offset": 0.8999, "color": "#8c8c8c"}, {"offset": 0.8999, "color": "#f2f2f2"}, {"offset": 0.9259, "color": "#f2f2f2"},
                    {"offset": 0.9259, "color": "#8c8c8c"}, {"offset": 0.9369, "color": "#8c8c8c"}, {"offset": 0.9369, "color": "#f2f2f2"}, {"offset": 0.963, "color": "#f2f2f2"},
                    {"offset": 0.963, "color": "#8c8c8c"}, {"offset": 0.974, "color": "#8c8c8c"}, {"offset": 0.974, "color": "#f2f2f2"}, {"offset": 1, "color": "#f2f2f2"}]}}, "encoding": {}},
                {"transform": [{"filter": "datum.s == 'sd'"}], "mark": {"type": "area", "fill": "#a8a8a8", "stroke": "#777777", "strokeWidth": 0.5}, "encoding": {}},
                {"transform": [{"filter": "datum.s == 'g2'"}], "mark": {"type": "area", "fill": "#9e9e9e", "stroke": "#666666", "strokeWidth": 0.5}, "encoding": {}},
                {"transform": [{"filter": "datum.s == 'g1'"}], "mark": {"type": "area", "fill": "#8c8c8c", "stroke": "#222222", "strokeWidth": 0.8}, "encoding": {}},
                {"transform": [{"filter": "datum.s == 'blk'"}], "mark": {"type": "area", "fill": "#111111"}, "encoding": {}},
                {"transform": [{"filter": "datum.s == 'fit'"}], "mark": {"type": "line", "stroke": "#555555", "strokeWidth": 0.8}, "encoding": {}},
                {"transform": [{"filter": "datum.s == 'obs'"}], "mark": {"type": "line", "stroke": "#000000", "strokeWidth": 1.2}, "encoding": {}}
              ]
            },
            {"data": {"values": [{"part": "panel axis"}]}, "mark": {"type": "rule", "stroke": "#333333", "strokeWidth": 1},
              "encoding": {"x": {"datum": 0}, "y": {"datum": 0}, "y2": {"datum": 121}}},
            {"data": {"values": [{"part": "cell number axis"}]}, "mark": {"type": "rule", "stroke": "#000000", "strokeWidth": 2},
              "encoding": {"x": {"datum": -15}, "y": {"datum": 0}, "y2": {"datum": 143.5}}},
            {"data": {"values": [{"t": "40 µg/mL AC"}]}, "mark": {"type": "text", "fontSize": 21, "fontWeight": "bold", "align": "center", "baseline": "middle"},
              "encoding": {"x": {"datum": 212}, "y": {"datum": 113.5}, "text": {"field": "t"}}}
          ]
        },
        {
          "width": 307,
          "height": 143.5,
          "layer": [
            {
              "data": {"name": "p4"},
              "encoding": {
                "x": {"field": "x", "type": "quantitative", "scale": {"domain": [0, 307], "nice": false, "zero": false},
                  "axis": {"title": null, "labels": false, "grid": false, "tickSize": 3, "tickColor": "#222", "domainColor": "#222", "domainWidth": 1,
                    "values": [0,12.5,25,37.5,50,62.5,75,87.5,100,112.5,125,137.5,150,162.5,175,187.5,200,212.5,225,237.5,250,262.5,275,287.5,300]}},
                "y": {"field": "h", "type": "quantitative", "scale": {"domain": [0, 143.5], "nice": false},
                  "axis": {"title": null, "labels": false, "grid": false, "domain": false, "tickSize": 2, "tickColor": "#555",
                    "values": [6,12,18,24,30,36,42,48,54,60,66,72,78,84,90,96,102,108,114,120,126]}}
              },
              "layer": [
                {"transform": [{"filter": "datum.s == 'sub'"}], "mark": {"type": "area", "fill": "#dedede", "stroke": "#8a8a8a", "strokeWidth": 0.8}, "encoding": {}},
                {"transform": [{"filter": "datum.s == 's'"}], "mark": {"type": "area", "stroke": "#999999", "strokeWidth": 0.6,
                  "fill": {"gradient": "linear", "x1": 0, "y1": 0.544, "x2": 1, "y2": 0.456, "stops": [
                    {"offset": 0, "color": "#8c8c8c"}, {"offset": 0.011, "color": "#8c8c8c"}, {"offset": 0.011, "color": "#f2f2f2"}, {"offset": 0.037, "color": "#f2f2f2"},
                    {"offset": 0.037, "color": "#8c8c8c"}, {"offset": 0.048, "color": "#8c8c8c"}, {"offset": 0.048, "color": "#f2f2f2"}, {"offset": 0.0741, "color": "#f2f2f2"},
                    {"offset": 0.0741, "color": "#8c8c8c"}, {"offset": 0.0851, "color": "#8c8c8c"}, {"offset": 0.0851, "color": "#f2f2f2"}, {"offset": 0.1111, "color": "#f2f2f2"},
                    {"offset": 0.1111, "color": "#8c8c8c"}, {"offset": 0.1221, "color": "#8c8c8c"}, {"offset": 0.1221, "color": "#f2f2f2"}, {"offset": 0.1481, "color": "#f2f2f2"},
                    {"offset": 0.1481, "color": "#8c8c8c"}, {"offset": 0.1591, "color": "#8c8c8c"}, {"offset": 0.1591, "color": "#f2f2f2"}, {"offset": 0.1852, "color": "#f2f2f2"},
                    {"offset": 0.1852, "color": "#8c8c8c"}, {"offset": 0.1962, "color": "#8c8c8c"}, {"offset": 0.1962, "color": "#f2f2f2"}, {"offset": 0.2222, "color": "#f2f2f2"},
                    {"offset": 0.2222, "color": "#8c8c8c"}, {"offset": 0.2332, "color": "#8c8c8c"}, {"offset": 0.2332, "color": "#f2f2f2"}, {"offset": 0.2593, "color": "#f2f2f2"},
                    {"offset": 0.2593, "color": "#8c8c8c"}, {"offset": 0.2703, "color": "#8c8c8c"}, {"offset": 0.2703, "color": "#f2f2f2"}, {"offset": 0.2963, "color": "#f2f2f2"},
                    {"offset": 0.2963, "color": "#8c8c8c"}, {"offset": 0.3073, "color": "#8c8c8c"}, {"offset": 0.3073, "color": "#f2f2f2"}, {"offset": 0.3333, "color": "#f2f2f2"},
                    {"offset": 0.3333, "color": "#8c8c8c"}, {"offset": 0.3443, "color": "#8c8c8c"}, {"offset": 0.3443, "color": "#f2f2f2"}, {"offset": 0.3704, "color": "#f2f2f2"},
                    {"offset": 0.3704, "color": "#8c8c8c"}, {"offset": 0.3814, "color": "#8c8c8c"}, {"offset": 0.3814, "color": "#f2f2f2"}, {"offset": 0.4074, "color": "#f2f2f2"},
                    {"offset": 0.4074, "color": "#8c8c8c"}, {"offset": 0.4184, "color": "#8c8c8c"}, {"offset": 0.4184, "color": "#f2f2f2"}, {"offset": 0.4444, "color": "#f2f2f2"},
                    {"offset": 0.4444, "color": "#8c8c8c"}, {"offset": 0.4554, "color": "#8c8c8c"}, {"offset": 0.4554, "color": "#f2f2f2"}, {"offset": 0.4815, "color": "#f2f2f2"},
                    {"offset": 0.4815, "color": "#8c8c8c"}, {"offset": 0.4925, "color": "#8c8c8c"}, {"offset": 0.4925, "color": "#f2f2f2"}, {"offset": 0.5185, "color": "#f2f2f2"},
                    {"offset": 0.5185, "color": "#8c8c8c"}, {"offset": 0.5295, "color": "#8c8c8c"}, {"offset": 0.5295, "color": "#f2f2f2"}, {"offset": 0.5556, "color": "#f2f2f2"},
                    {"offset": 0.5556, "color": "#8c8c8c"}, {"offset": 0.5666, "color": "#8c8c8c"}, {"offset": 0.5666, "color": "#f2f2f2"}, {"offset": 0.5926, "color": "#f2f2f2"},
                    {"offset": 0.5926, "color": "#8c8c8c"}, {"offset": 0.6036, "color": "#8c8c8c"}, {"offset": 0.6036, "color": "#f2f2f2"}, {"offset": 0.6296, "color": "#f2f2f2"},
                    {"offset": 0.6296, "color": "#8c8c8c"}, {"offset": 0.6406, "color": "#8c8c8c"}, {"offset": 0.6406, "color": "#f2f2f2"}, {"offset": 0.6667, "color": "#f2f2f2"},
                    {"offset": 0.6667, "color": "#8c8c8c"}, {"offset": 0.6777, "color": "#8c8c8c"}, {"offset": 0.6777, "color": "#f2f2f2"}, {"offset": 0.7037, "color": "#f2f2f2"},
                    {"offset": 0.7037, "color": "#8c8c8c"}, {"offset": 0.7147, "color": "#8c8c8c"}, {"offset": 0.7147, "color": "#f2f2f2"}, {"offset": 0.7407, "color": "#f2f2f2"},
                    {"offset": 0.7407, "color": "#8c8c8c"}, {"offset": 0.7517, "color": "#8c8c8c"}, {"offset": 0.7517, "color": "#f2f2f2"}, {"offset": 0.7778, "color": "#f2f2f2"},
                    {"offset": 0.7778, "color": "#8c8c8c"}, {"offset": 0.7888, "color": "#8c8c8c"}, {"offset": 0.7888, "color": "#f2f2f2"}, {"offset": 0.8148, "color": "#f2f2f2"},
                    {"offset": 0.8148, "color": "#8c8c8c"}, {"offset": 0.8258, "color": "#8c8c8c"}, {"offset": 0.8258, "color": "#f2f2f2"}, {"offset": 0.8519, "color": "#f2f2f2"},
                    {"offset": 0.8519, "color": "#8c8c8c"}, {"offset": 0.8629, "color": "#8c8c8c"}, {"offset": 0.8629, "color": "#f2f2f2"}, {"offset": 0.8889, "color": "#f2f2f2"},
                    {"offset": 0.8889, "color": "#8c8c8c"}, {"offset": 0.8999, "color": "#8c8c8c"}, {"offset": 0.8999, "color": "#f2f2f2"}, {"offset": 0.9259, "color": "#f2f2f2"},
                    {"offset": 0.9259, "color": "#8c8c8c"}, {"offset": 0.9369, "color": "#8c8c8c"}, {"offset": 0.9369, "color": "#f2f2f2"}, {"offset": 0.963, "color": "#f2f2f2"},
                    {"offset": 0.963, "color": "#8c8c8c"}, {"offset": 0.974, "color": "#8c8c8c"}, {"offset": 0.974, "color": "#f2f2f2"}, {"offset": 1, "color": "#f2f2f2"}]}}, "encoding": {}},
                {"transform": [{"filter": "datum.s == 'g2'"}], "mark": {"type": "area", "fill": "#9e9e9e", "stroke": "#666666", "strokeWidth": 0.5}, "encoding": {}},
                {"transform": [{"filter": "datum.s == 'g1'"}], "mark": {"type": "area", "fill": "#8c8c8c", "stroke": "#222222", "strokeWidth": 0.8}, "encoding": {}},
                {"transform": [{"filter": "datum.s == 'blk'"}], "mark": {"type": "area", "fill": "#111111"}, "encoding": {}},
                {"transform": [{"filter": "datum.s == 'fit'"}], "mark": {"type": "line", "stroke": "#555555", "strokeWidth": 0.8}, "encoding": {}},
                {"transform": [{"filter": "datum.s == 'obs'"}], "mark": {"type": "line", "stroke": "#000000", "strokeWidth": 1.2}, "encoding": {}}
              ]
            },
            {"data": {"values": [{"part": "panel axis"}]}, "mark": {"type": "rule", "stroke": "#333333", "strokeWidth": 1},
              "encoding": {"x": {"datum": 0}, "y": {"datum": 0}, "y2": {"datum": 128}}},
            {"data": {"values": [{"part": "panel axis band"}]}, "mark": {"type": "rule", "stroke": "#9a9a9a", "strokeWidth": 3},
              "encoding": {"x": {"datum": 1}, "y": {"datum": 55}, "y2": {"datum": 128}}},
            {"data": {"values": [{"part": "cell number axis"}]}, "mark": {"type": "rule", "stroke": "#000000", "strokeWidth": 2},
              "encoding": {"x": {"datum": -15}, "y": {"datum": -11}, "y2": {"datum": 143.5}}},
            {"data": {"values": [{"part": "DNA content axis"}]}, "mark": {"type": "rule", "stroke": "#000000", "strokeWidth": 2},
              "encoding": {"x": {"datum": -15}, "x2": {"datum": 321}, "y": {"datum": -11}}},
            {"data": {"values": [{"part": "arrow head"}]}, "mark": {"type": "point", "shape": "triangle-right", "size": 60, "filled": true, "color": "#000000", "opacity": 1},
              "encoding": {"x": {"datum": 322}, "y": {"datum": -11}}},
            {"data": {"values": [{"t": "DNA content (PI fluorescence)"}]}, "mark": {"type": "text", "fontSize": 21, "fontWeight": "bold", "align": "center", "baseline": "middle"},
              "encoding": {"x": {"datum": 163}, "y": {"datum": -36}, "text": {"field": "t"}}},
            {"data": {"values": [{"t": "25 µg/mL TS"}]}, "mark": {"type": "text", "fontSize": 21, "fontWeight": "bold", "align": "center", "baseline": "middle"},
              "encoding": {"x": {"datum": 219.5}, "y": {"datum": 114.5}, "text": {"field": "t"}}},
            {"data": {"values": [{"t": "+40 µg/mL AC"}]}, "mark": {"type": "text", "fontSize": 21, "fontWeight": "bold", "align": "center", "baseline": "middle"},
              "encoding": {"x": {"datum": 221}, "y": {"datum": 91}, "text": {"field": "t"}}}
          ]
        }
      ],
      "spacing": 0,
      "bounds": "flush"
    },
    {
      "width": 220,
      "height": 446,
      "layer": [
        {
          "data": {"values": [
            {"g": 1, "v": 0},
            {"g": 2, "v": 7.6, "e": 10.5},
            {"g": 3, "v": 12.4, "e": 14.2},
            {"g": 4, "v": 45.1, "e": 55.7}
          ]},
          "layer": [
            {"mark": {"type": "bar", "width": 32, "color": "#000000", "orient": "vertical"},
              "encoding": {
                "x": {"field": "g", "type": "quantitative", "scale": {"domain": [0.34, 4.635], "nice": false, "zero": false},
                  "axis": {"title": null, "grid": false, "values": [1, 2, 3, 4], "labelExpr": "datum.value == 2 || datum.value == 4 ? '25' : '0'",
                    "ticks": false, "tickSize": 0, "labelPadding": 12, "labelFontSize": 21, "labelFontWeight": "bold", "labelColor": "#000000",
                    "domainColor": "#000000", "domainWidth": 1.8}},
                "y": {"field": "v", "type": "quantitative", "scale": {"domain": [-1, 112.03], "nice": false, "zero": false},
                  "axis": {"title": null, "grid": false, "domain": false, "values": [0, 20, 40, 60, 80], "tickSize": 5, "tickWidth": 1.5, "tickColor": "#000000",
                    "labelPadding": 1, "labelFontSize": 19, "labelFontWeight": "bold", "labelColor": "#000000"}},
                "y2": {"datum": -1}
              }},
            {"transform": [{"filter": "isValid(datum.e)"}], "mark": {"type": "rule", "stroke": "#000000", "strokeWidth": 1.5},
              "encoding": {"x": {"field": "g", "type": "quantitative"}, "y": {"field": "v", "type": "quantitative"}, "y2": {"field": "e"}}},
            {"transform": [{"filter": "isValid(datum.e)"}], "mark": {"type": "tick", "orient": "horizontal", "thickness": 1.6, "color": "#000000", "opacity": 1},
              "encoding": {"x": {"field": "g", "type": "quantitative"}, "y": {"field": "e", "type": "quantitative"}, "size": {"value": 15}}},
            {"transform": [{"filter": "isValid(datum.e)"}], "mark": {"type": "text", "text": "***", "fontSize": 19, "color": "#555555", "align": "center", "baseline": "alphabetic", "dy": 2},
              "encoding": {"x": {"field": "g", "type": "quantitative"}, "y": {"field": "e", "type": "quantitative"}}}
          ]
        },
        {
          "data": {"values": [
            {"b": "outer", "x": 2, "y": 16.2, "o": 1}, {"b": "outer", "x": 2, "y": 71.1, "o": 2}, {"b": "outer", "x": 4, "y": 71.1, "o": 3}, {"b": "outer", "x": 4, "y": 65, "o": 4},
            {"b": "inner", "x": 3, "y": 19.6, "o": 1}, {"b": "inner", "x": 3, "y": 63.2, "o": 2}, {"b": "inner", "x": 4, "y": 63.2, "o": 3}, {"b": "inner", "x": 4, "y": 61.2, "o": 4}
          ]},
          "mark": {"type": "line", "stroke": "#000000", "strokeWidth": 1.5},
          "encoding": {"x": {"field": "x", "type": "quantitative"}, "y": {"field": "y", "type": "quantitative"}, "detail": {"field": "b"}, "order": {"field": "o"}}
        },
        {
          "data": {"values": [{"lbl": "###"}]},
          "mark": {"type": "text", "fontSize": 16, "color": "#444444", "align": "center", "baseline": "alphabetic", "dy": 5},
          "encoding": {"x": {"datum": 3.0}, "y": {"datum": 73.5}, "text": {"field": "lbl"}}
        },
        {
          "data": {"values": [{"lbl": "###"}]},
          "mark": {"type": "text", "fontSize": 16, "color": "#444444", "align": "center", "baseline": "alphabetic", "dy": 5},
          "encoding": {"x": {"datum": 3.5}, "y": {"datum": 65.9}, "text": {"field": "lbl"}}
        },
        {
          "data": {"values": [{"side": "top"}]},
          "mark": {"type": "rule", "stroke": "#000000", "strokeWidth": 1.8},
          "encoding": {"x": {"datum": 0.34}, "x2": {"datum": 4.635}, "y": {"datum": 82.3}}
        },
        {
          "data": {"values": [{"side": "left"}]},
          "mark": {"type": "rule", "stroke": "#000000", "strokeWidth": 1.8},
          "encoding": {"x": {"datum": 0.34}, "y": {"datum": -1}, "y2": {"datum": 82.3}}
        },
        {
          "data": {"values": [{"side": "right"}]},
          "mark": {"type": "rule", "stroke": "#000000", "strokeWidth": 1.8},
          "encoding": {"x": {"datum": 4.635}, "y": {"datum": -1}, "y2": {"datum": 82.3}}
        },
        {
          "data": {"values": [{"t": "B"}]},
          "mark": {"type": "text", "fontSize": 26, "fontWeight": "bold", "align": "center", "baseline": "middle"},
          "encoding": {"x": {"datum": -0.697}, "y": {"datum": 89.6}, "text": {"field": "t"}}
        },
        {
          "data": {"values": [{"t": "Apoptotic cells (%)"}]},
          "mark": {"type": "text", "fontSize": 21, "fontWeight": "bold", "align": "center", "baseline": "middle", "angle": 270},
          "encoding": {"x": {"datum": -0.785}, "y": {"datum": 39}, "text": {"field": "t"}}
        },
        {
          "data": {"values": [{"t": "TS"}]},
          "mark": {"type": "text", "fontSize": 21, "fontWeight": "bold", "align": "center", "baseline": "middle"},
          "encoding": {"x": {"datum": 0.25}, "y": {"datum": -6.5}, "text": {"field": "t"}}
        },
        {
          "data": {"values": [{"t": "(µg/mL)"}]},
          "mark": {"type": "text", "fontSize": 21, "fontWeight": "bold", "align": "center", "baseline": "middle"},
          "encoding": {"x": {"datum": 5.158}, "y": {"datum": -6.5}, "text": {"field": "t"}}
        },
        {
          "data": {"values": [{"part": "AC underline"}]},
          "mark": {"type": "rule", "stroke": "#000000", "strokeWidth": 2},
          "encoding": {"x": {"datum": 2.548}, "x2": {"datum": 4.503}, "y": {"datum": -9.9}}
        },
        {
          "data": {"values": [{"t": "+AC (40 µg/mL)"}]},
          "mark": {"type": "text", "fontSize": 21, "fontWeight": "bold", "align": "center", "baseline": "middle"},
          "encoding": {"x": {"datum": 3.897}, "y": {"datum": -15.6}, "text": {"field": "t"}}
        }
      ]
    }
  ]
}
